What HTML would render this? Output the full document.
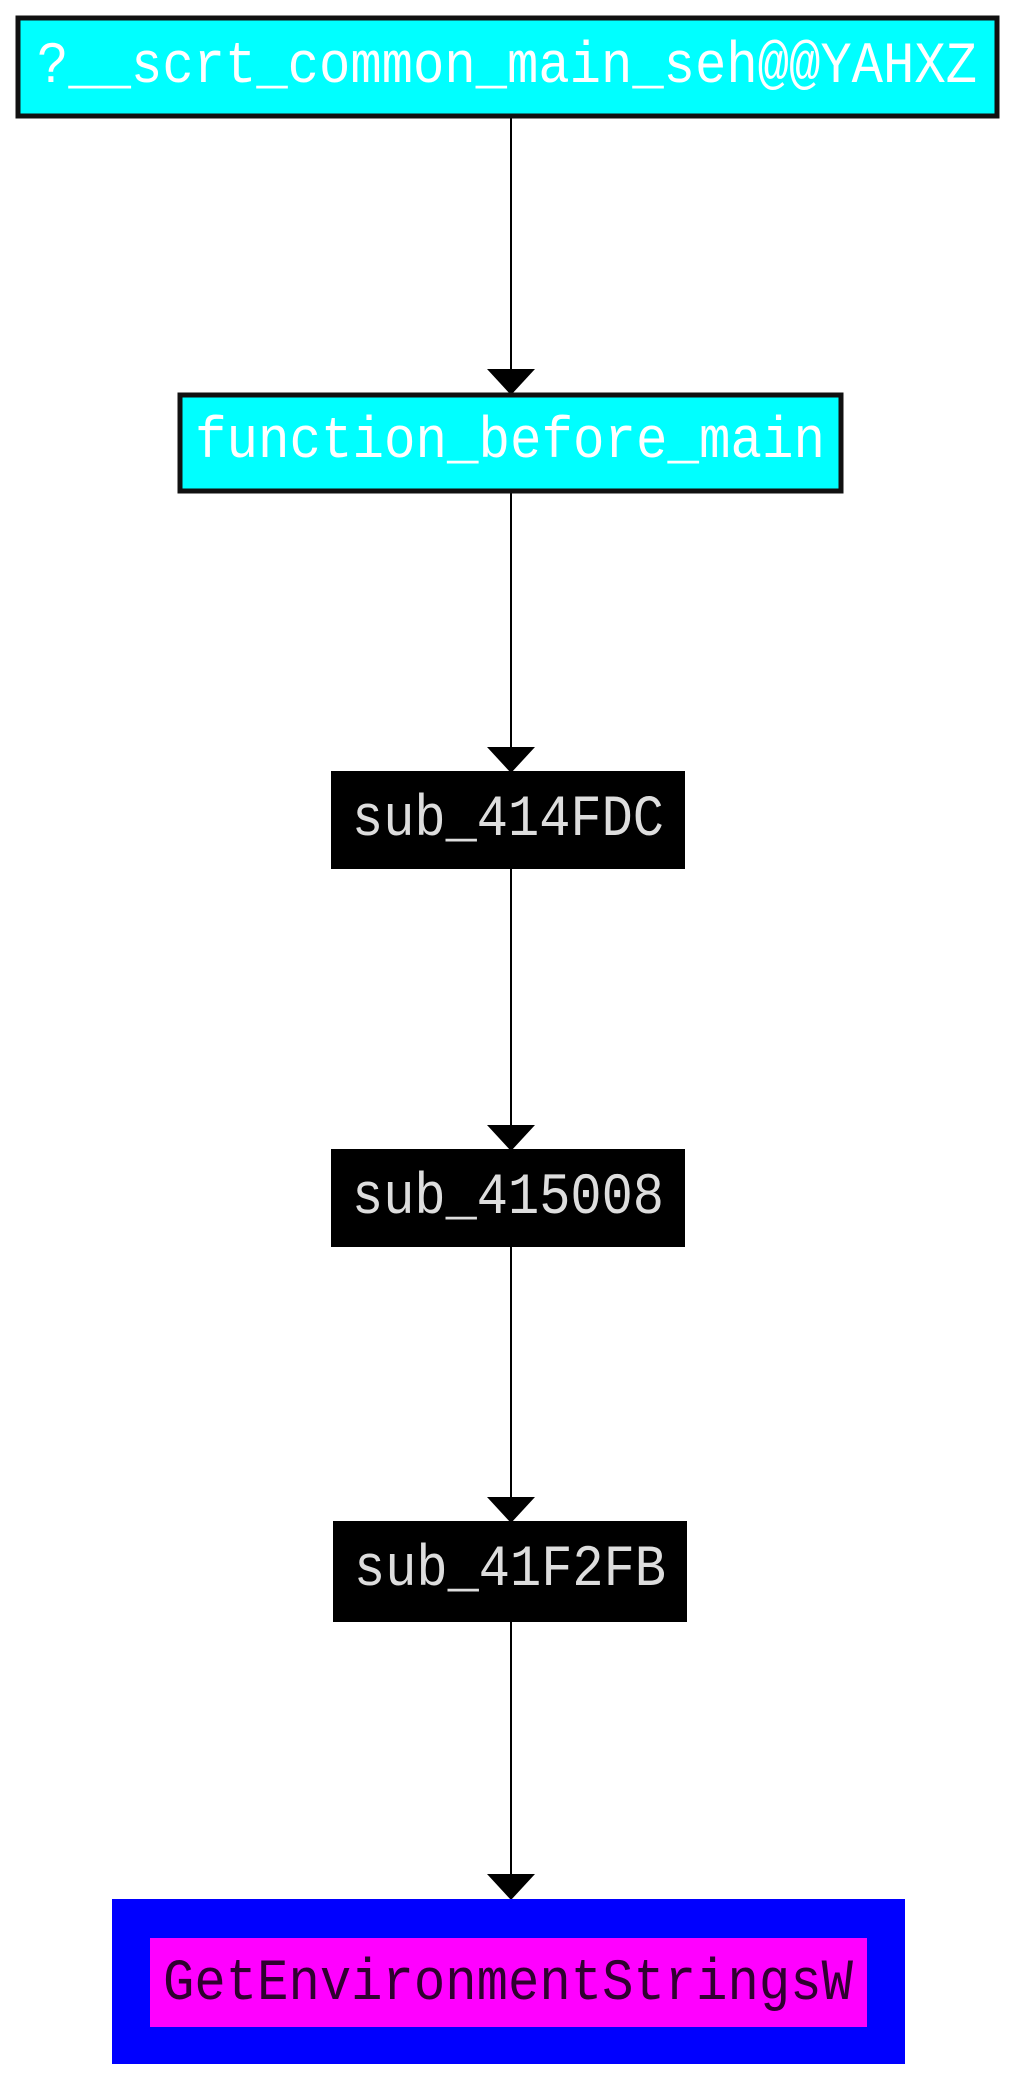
<!DOCTYPE html>
<html><head><style>
html,body{margin:0;padding:0;background:#fff;width:1024px;height:2084px;overflow:hidden}
text{font-family:"Liberation Mono",monospace;font-size:58px}
</style></head><body>
<svg width="1024" height="2084" xmlns="http://www.w3.org/2000/svg">
<g stroke="#000" stroke-width="2">
<line x1="511" y1="118" x2="511" y2="375"/>
<line x1="511" y1="493" x2="511" y2="753"/>
<line x1="511" y1="869" x2="511" y2="1131"/>
<line x1="511" y1="1247" x2="511" y2="1503"/>
<line x1="511" y1="1622" x2="511" y2="1881"/>
</g>
<g fill="#000">
<polygon points="487,369 535,369 511,395"/>
<polygon points="487,747 535,747 511,773"/>
<polygon points="487,1125 535,1125 511,1151"/>
<polygon points="487,1497 535,1497 511,1523"/>
<polygon points="487,1874 535,1874 511,1900"/>
</g>
<rect x="18" y="18" width="979" height="98" fill="#00ffff" stroke="#111" stroke-width="5"/>
<text x="507" y="82" fill="#fff" text-anchor="middle" textLength="940" lengthAdjust="spacingAndGlyphs">?__scrt_common_main_seh@@YAHXZ</text>
<rect x="180" y="395" width="661" height="96" fill="#00ffff" stroke="#111" stroke-width="5"/>
<text x="510" y="457" fill="#fff" text-anchor="middle" textLength="630" lengthAdjust="spacingAndGlyphs">function_before_main</text>
<rect x="331" y="771" width="354" height="98" fill="#000"/>
<text x="508" y="835" fill="#ddd" text-anchor="middle" textLength="312" lengthAdjust="spacingAndGlyphs">sub_414FDC</text>
<rect x="331" y="1149" width="354" height="98" fill="#000"/>
<text x="508" y="1213" fill="#ddd" text-anchor="middle" textLength="312" lengthAdjust="spacingAndGlyphs">sub_415008</text>
<rect x="333" y="1521" width="354" height="101" fill="#000"/>
<text x="510" y="1585" fill="#ddd" text-anchor="middle" textLength="312" lengthAdjust="spacingAndGlyphs">sub_41F2FB</text>
<rect x="112" y="1899" width="793" height="165" fill="#0000ff"/>
<rect x="150" y="1938" width="717" height="89" fill="#ff00ff"/>
<text x="508" y="1999" fill="#300030" text-anchor="middle" textLength="690" lengthAdjust="spacingAndGlyphs">GetEnvironmentStringsW</text>
</svg>
</body></html>
